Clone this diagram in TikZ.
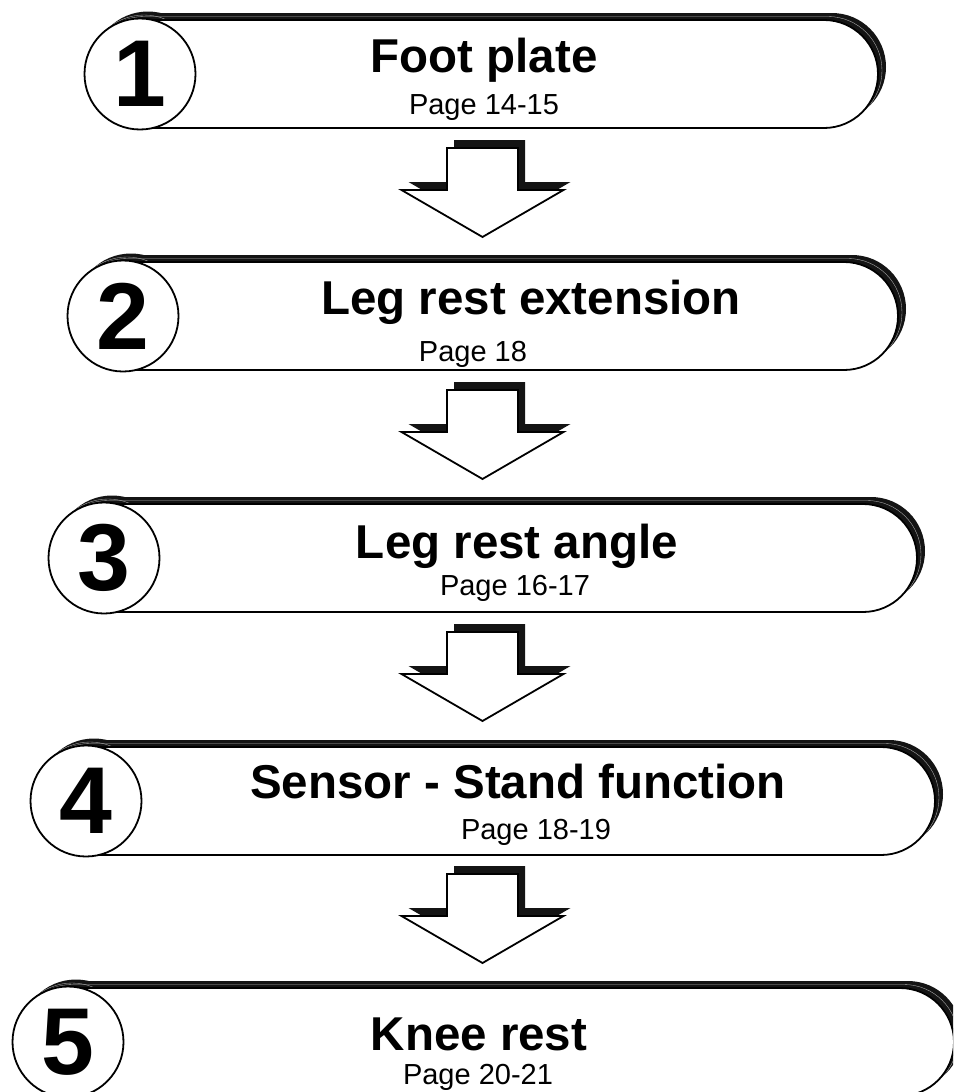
\documentclass[tikz,border=0pt]{standalone}
\usepackage{fontspec}
\setmainfont{Liberation Sans}
\tikzset{
  shadowfill/.style={fill=black!92},
  shadowline/.style={draw=white!70!black,line width=0.35pt},
  pillbody/.style={draw=black,fill=white,line width=1.8pt,rounded corners=54pt},
  numcircle/.style={circle,draw=black,fill=white,line width=1.8pt,minimum size=111pt,inner sep=0pt},
  numtext/.style={inner sep=0pt,font=\fontsize{95}{95}\selectfont\bfseries},
  titletext/.style={anchor=base,inner sep=0pt,font=\fontsize{47.5}{50}\selectfont\bfseries},
  subtext/.style={anchor=base,inner sep=0pt,font=\fontsize{29}{31}\selectfont},
  arrowbody/.style={draw=black,fill=white,line width=1.8pt,line join=miter},
}
% #1 name, #2 cx, #3 cy, #4 right x, #5 number, #6 title, #7 title x, #8 title baseline offset
\newcommand\mybanner[8]{%
  \fill[shadowfill,rounded corners=54pt] (#2-54+8,#3-54-7) rectangle (#4+8,#3+54-7);
  \fill[shadowfill] (#2+8,#3-7) circle (55.5);
  \draw[shadowline,rounded corners=54pt] (#2-54+4,#3-54-3.5) rectangle (#4+4,#3+54-3.5);
  \draw[shadowline] (#2+4,#3-3.5) circle (55.5);
  \draw[pillbody] (#2-54,#3-54) rectangle (#4,#3+54);
  \node[numcircle] (#1circ) at (#2,#3) {};
  \node[numtext] (#1num) at (#2,#3) {#5};
  \node[titletext] (#1title) at (#7,#3+#8) {#6};
}
\newcommand\mysub[4]{\node[subtext] (#1sub) at (#2,#3) {#4};}
\newcommand\myarrow[3]{%
  \coordinate (#1) at (#2,#3);
  \fill[shadowfill] ([shift={(7-35.5,-8)}]#1) -- ++(71,0) -- ++(0,42) -- ++(45.5,0) -- ++(-81,47) -- ++(-81,-47) -- ++(45.5,0) -- cycle;
  \draw[arrowbody] ([shift={(-35.5,0)}]#1) -- ++(71,0) -- ++(0,42) -- ++(45.5,0) -- ++(-81,47) -- ++(-81,-47) -- ++(45.5,0) -- cycle;
}
\begin{document}
\begin{tikzpicture}[x=1pt,y=-1pt]
\useasboundingbox (0,0) rectangle (953,1092);
\clip (0,0) rectangle (953,1092);
\fill[white] (0,0) rectangle (953,1092);

\mybanner{b1}{140}{74}{878}{1}{Foot plate}{484}{-2}
\mysub{b1}{484}{114}{Page 14-15}
\myarrow{a1}{482.5}{148}

\mybanner{b2}{123}{316}{898}{2}{Leg rest extension}{531}{-2}
\mysub{b2}{473}{361}{Page 18}
\myarrow{a2}{482.5}{390}

\mybanner{b3}{104}{558}{917}{3}{Leg rest angle}{517}{0}
\mysub{b3}{515}{595}{Page 16-17}
\myarrow{a3}{482.5}{632}

\mybanner{b4}{86}{801}{935}{4}{Sensor - Stand function}{518}{-3}
\mysub{b4}{536}{839}{Page 18-19}
\myarrow{a4}{482.5}{874}

\mybanner{b5}{68}{1042}{954}{5}{Knee rest}{479}{8}
\mysub{b5}{478}{1084}{Page 20-21}
\end{tikzpicture}
\end{document}
